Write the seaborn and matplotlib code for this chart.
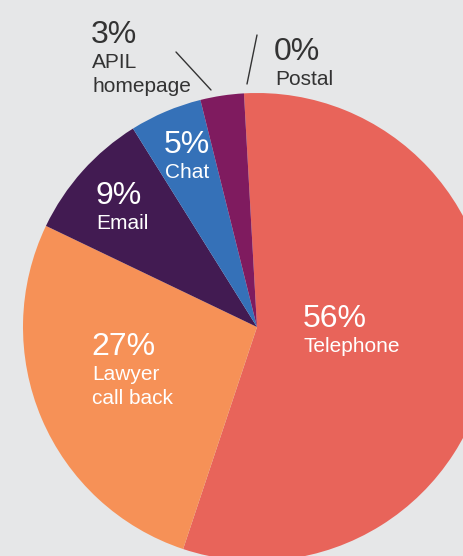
import matplotlib
matplotlib.use("Agg")
import matplotlib.pyplot as plt
import seaborn as sns

# datos del gráfico
canales = ["Telephone", "Lawyer\ncall back", "Email", "Chat", "APIL\nhomepage", "Postal"]
porcentajes = [56, 27, 9, 5, 3, 0]
colores = ["#e8645a", "#f69157", "#421b52", "#3571b8", "#7f1b5f", "#e8645a"]

# estilo
sns.set_theme(style="white", rc={"figure.facecolor": "#e6e7e8", "axes.facecolor": "#e6e7e8"})
plt.rcParams["font.family"] = ["Liberation Sans", "DejaVu Sans"]

fig = plt.figure(figsize=(4.64, 5.56), dpi=100)
ax = fig.add_axes([0, 0, 1, 1])

ax.pie(porcentajes, colors=colores, radius=234, startangle=93.2, counterclock=False,
       wedgeprops={"linewidth": 0})

# unidades = pixeles, centro del pie en (257, 327) desde arriba
ax.set_xlim(-257, 464 - 257)
ax.set_ylim(-(556 - 327), 327)
ax.set_aspect("equal", adjustable="datalim")
ax.axis("off")

# posiciones de las etiquetas (x, línea base del porcentaje, color)
etiquetas = [
    (46, 0, "white"),
    (-166, -28, "white"),
    (-162, 123, "white"),
    (-93, 174, "white"),
    (-166, 284, "#333333"),
    (17, 267, "#333333"),
]
for canal, pct, (x, y, c) in zip(canales, porcentajes, etiquetas):
    ax.text(x, y, f"{pct}%", fontsize=23, color=c, ha="left", va="baseline")
    for i, linea in enumerate(canal.split("\n")):
        ax.text(x + 1, y - 25 - 23.5 * i, linea, fontsize=15, color=c, ha="left", va="baseline")

# líneas guía
ax.plot([-81, -46], [275, 237], color="#333333", lw=1)
ax.plot([0, -10], [292, 243], color="#333333", lw=1)

plt.savefig("out.png", dpi=100, facecolor=fig.get_facecolor())
